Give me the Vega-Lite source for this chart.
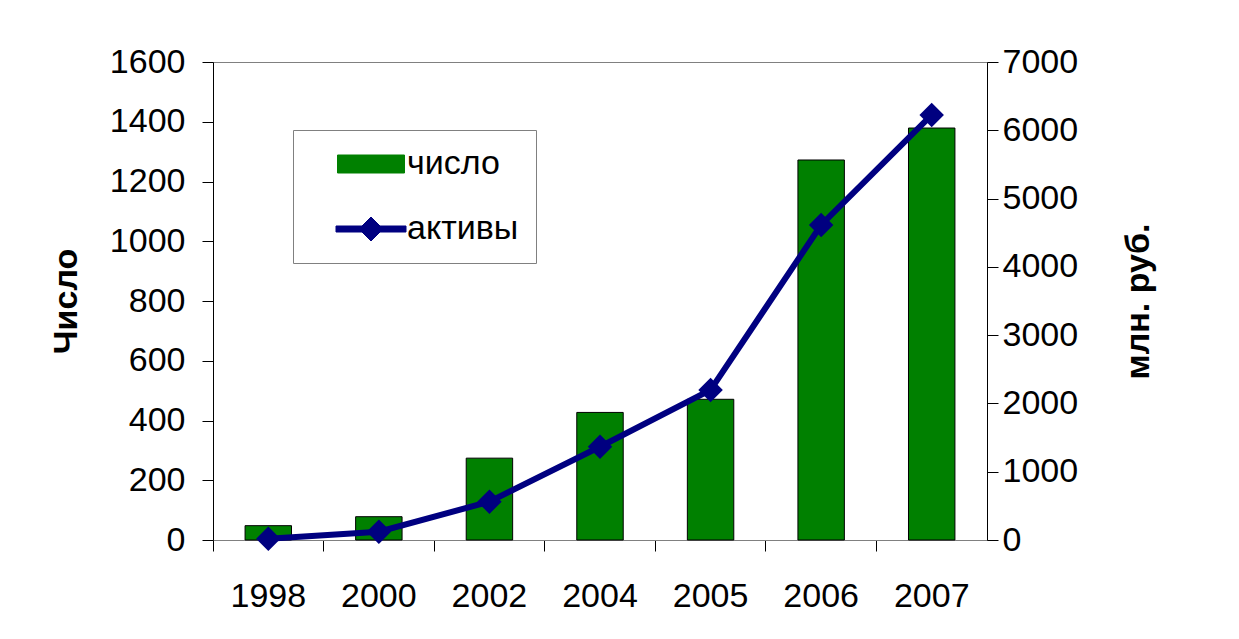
{
  "$schema": "https://vega.github.io/schema/vega-lite/v6.json",
  "autosize": "none",
  "padding": {"left": 213, "top": 62, "right": 252, "bottom": 99},
  "width": 774,
  "height": 478,
  "background": "white",
  "config": {
    "view": {"stroke": "#808080", "strokeWidth": 1},
    "font": "Liberation Sans",
    "axis": {
      "labelFont": "Liberation Sans",
      "labelFontSize": 34,
      "labelColor": "black",
      "titleFont": "Liberation Sans",
      "titleFontSize": 34,
      "titleFontWeight": "bold",
      "titleColor": "black",
      "domainColor": "black",
      "tickColor": "black",
      "tickSize": 11,
      "grid": false
    }
  },
  "data": {
    "values": [
      {"year": "1998", "count": 48, "assets": 20},
      {"year": "2000", "count": 78, "assets": 122},
      {"year": "2002", "count": 274, "assets": 561},
      {"year": "2004", "count": 427, "assets": 1366},
      {"year": "2005", "count": 471, "assets": 2197},
      {"year": "2006", "count": 1272, "assets": 4613},
      {"year": "2007", "count": 1379, "assets": 6224}
    ]
  },
  "encoding": {
    "x": {
      "field": "year",
      "type": "ordinal",
      "scale": {"paddingInner": 0, "paddingOuter": 0},
      "axis": {
        "title": null,
        "labelAngle": 0,
        "bandPosition": 0,
        "domainColor": "#808080",
        "labelPadding": 28
      }
    }
  },
  "layer": [
    {
      "mark": {"type": "bar", "width": {"band": 0.42}, "stroke": "black", "strokeWidth": 1},
      "encoding": {
        "y": {
          "field": "count",
          "type": "quantitative",
          "scale": {"domain": [0, 1600], "nice": false},
          "axis": {
            "orient": "left",
            "title": "Число",
            "format": "d",
            "values": [0, 200, 400, 600, 800, 1000, 1200, 1400, 1600],
            "labelPadding": 17,
            "titlePadding": 26
          }
        },
        "color": {
          "datum": "число",
          "scale": {"domain": ["число", "активы"], "range": ["#008000", "#000080"]},
          "legend": {
            "title": null,
            "orient": "none",
            "legendX": 80,
            "legendY": 68,
            "fillColor": "white",
            "strokeColor": "#808080",
            "padding": 17,
            "labelFont": "Liberation Sans",
            "labelFontSize": 34,
            "labelColor": "black",
            "labelLimit": 300,
            "symbolSize": 400,
            "symbolOffset": 44,
            "labelOffset": 19,
            "rowPadding": 31,
            "symbolOpacity": 1,
            "symbolStrokeWidth": 1,
            "symbolType": {"expr": "datum.value == 'число' ? 'M-3.35,-0.9 L3.35,-0.9 L3.35,0.9 L-3.35,0.9 Z' : 'M-3.5,-0.3 L-0.9,-0.3 L0,-1.2 L0.9,-0.3 L3.5,-0.3 L3.5,0.3 L0.9,0.3 L0,1.2 L-0.9,0.3 L-3.5,0.3 Z'"},
            "symbolStrokeColor": {"expr": "datum.value == 'число' ? 'black' : '#000080'"},
            "labelExpr": "datum.label + '\u2003'"
          }
        }
      }
    },
    {
      "encoding": {
        "y": {
          "field": "assets",
          "type": "quantitative",
          "scale": {"domain": [0, 7000], "nice": false},
          "axis": {
            "orient": "right",
            "title": "млн. руб.",
            "titleAngle": -90,
            "format": "d",
            "values": [0, 1000, 2000, 3000, 4000, 5000, 6000, 7000],
            "labelPadding": 4,
            "titlePadding": 78
          }
        },
        "color": {"datum": "активы"}
      },
      "layer": [
        {"mark": {"type": "line", "strokeWidth": 6}},
        {"mark": {"type": "point", "shape": "diamond", "size": 600, "filled": true, "opacity": 1}}
      ]
    }
  ],
  "resolve": {"scale": {"y": "independent"}}
}
